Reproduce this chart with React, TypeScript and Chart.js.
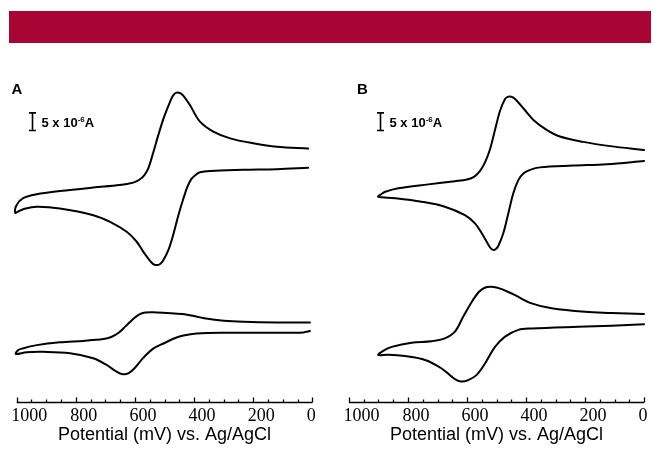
import React, { useEffect, useRef } from "react";
import { Chart, registerables } from "chart.js";

Chart.register(...registerables);

// ---------- data ----------
const potentialTicks = [1000, 800, 600, 400, 200, 0];
const axisTitle = "Potential (mV) vs. Ag/AgCl";
const panelLabels = ["A", "B"];
const scaleBarText = "5 x 10";
const scaleBarExp = "-6";
const scaleBarUnit = "A";
const scaleBarValue = 5; // µA (5 x 10^-6 A)

// Panel A, upper voltammogram (potential in mV, current in µA, stacked offset)
const aTopPotential = [14, 120, 233, 346, 380, 396, 410, 423, 436, 453, 470, 487, 504, 515, 526, 538, 549, 572, 594, 628, 684, 741, 854, 932, 978, 993, 1005, 1000, 978, 932, 854, 741, 651, 606, 585, 568, 555, 538, 521, 502, 481, 470, 459, 448, 436, 414, 380, 335, 278, 200, 120, 14];
const aTopCurrent = [66.1, 65.7, 65.5, 65.2, 64.8, 64.0, 62.8, 60.6, 57.4, 52.7, 47.3, 42.8, 40.0, 38.9, 38.6, 38.9, 39.8, 42.4, 45.2, 48.0, 50.8, 52.7, 54.6, 55.1, 54.4, 53.8, 53.4, 55.6, 57.5, 58.6, 59.5, 60.5, 61.2, 61.9, 62.7, 64.0, 65.9, 70.4, 75.3, 80.3, 84.8, 86.6, 87.3, 87.2, 86.4, 83.8, 79.1, 76.3, 74.4, 73.0, 72.0, 71.5];

// Panel A, lower voltammogram
const aBottomPotential = [8, 30, 120, 290, 391, 436, 470, 500, 538, 572, 600, 621, 642, 662, 696, 741, 820, 910, 966, 1003, 995, 978, 932, 854, 775, 707, 680, 655, 632, 606, 585, 565, 540, 493, 440, 400, 360, 300, 233, 120, 8];
const aBottomCurrent = [20.0, 19.6, 19.5, 19.5, 19.3, 18.7, 17.8, 16.6, 15.0, 12.4, 9.6, 8.1, 7.8, 8.5, 10.4, 12.3, 13.7, 14.1, 14.0, 13.5, 14.6, 15.1, 16.0, 16.8, 17.2, 17.7, 18.3, 19.5, 21.3, 23.4, 24.7, 25.2, 25.3, 25.1, 24.8, 24.2, 23.5, 22.9, 22.6, 22.4, 22.4];

// Panel B, upper voltammogram
const bTopPotential = [0, 126, 240, 353, 386, 409, 426, 443, 460, 477, 494, 503, 511, 520, 528, 550, 573, 607, 675, 754, 844, 901, 891, 877, 833, 731, 641, 600, 575, 555, 539, 522, 505, 488, 471, 462, 454, 443, 432, 409, 375, 330, 285, 206, 115, 0];
const bTopCurrent = [68.0, 67.1, 66.7, 66.2, 65.5, 64.5, 62.6, 58.9, 53.2, 47.6, 44.0, 43.1, 42.9, 43.4, 44.4, 47.6, 50.4, 52.7, 55.1, 56.5, 57.5, 57.9, 58.6, 59.3, 60.3, 61.4, 62.3, 62.8, 63.6, 65.3, 67.6, 71.3, 76.8, 82.2, 85.5, 86.1, 86.2, 85.9, 85.1, 82.9, 79.6, 76.8, 74.9, 73.4, 72.2, 71.1];

// Panel B, lower voltammogram
const bBottomPotential = [0, 110, 223, 381, 426, 471, 505, 539, 567, 596, 618, 635, 652, 686, 742, 810, 867, 901, 884, 855, 788, 720, 675, 641, 613, 584, 560, 540, 520, 500, 482, 460, 437, 381, 313, 200, 110, 0];
const bBottomCurrent = [21.9, 21.5, 21.2, 20.7, 20.3, 18.4, 15.5, 10.8, 7.6, 6.1, 5.7, 6.1, 7.1, 9.4, 11.8, 12.9, 13.3, 13.2, 14.4, 15.5, 16.7, 17.1, 17.9, 19.8, 24.0, 28.2, 31.0, 32.2, 32.5, 32.3, 31.8, 31.0, 30.1, 27.8, 26.4, 25.4, 25.1, 24.8];

// scale bar anchor (potential mV, current µA of bar bottom)
const aScaleBarAt = [948, 76.6];
const bScaleBarAt = [895, 76.6];

// ---------- styling / layout ----------
const SERIF = "'Liberation Serif', 'Times New Roman', Times, serif";
const SANS = "'Liberation Sans', Arial, Helvetica, sans-serif";
const W = 653;
const H = 451;
const Y_MAX = 99.35;

type Curve = { potential: number[]; current: number[] };
type Panel = {
  label: string;
  curves: Curve[];
  bar: number[];
  canvasLeft: number;
  canvasWidth: number;
  padLeft: number;
  padRight: number;
  labelX: number;
  labelY: number;
};

const panels: Panel[] = [
  {
    label: panelLabels[0],
    curves: [
      { potential: aTopPotential, current: aTopCurrent },
      { potential: aBottomPotential, current: aBottomCurrent },
    ],
    bar: aScaleBarAt,
    canvasLeft: -12,
    canvasWidth: 347,
    padLeft: 28.7,
    padRight: 22.7,
    labelX: 23.5,
    labelY: 94,
  },
  {
    label: panelLabels[1],
    curves: [
      { potential: bTopPotential, current: bTopCurrent },
      { potential: bBottomPotential, current: bBottomCurrent },
    ],
    bar: bScaleBarAt,
    canvasLeft: 320,
    canvasWidth: 345,
    padLeft: 29,
    padRight: 21,
    labelX: 37,
    labelY: 93.5,
  },
];

const decorPlugin = {
  id: "cvDecor",
  afterDraw(chart: any, _args: any, opts: any) {
    const { ctx, chartArea, scales } = chart;
    const xs = scales.x;
    const ys = scales.y;
    ctx.save();
    ctx.strokeStyle = "#000";
    ctx.fillStyle = "#000";
    // axis line with inward ticks
    const yb = Math.round(chartArea.bottom) + 0.5;
    ctx.lineWidth = 1.3;
    ctx.beginPath();
    ctx.moveTo(xs.getPixelForValue(potentialTicks[0]), yb);
    ctx.lineTo(xs.getPixelForValue(potentialTicks[potentialTicks.length - 1]), yb);
    for (let v = 0; v <= 1000; v += 50) {
      const px = Math.round(xs.getPixelForValue(v)) + 0.5;
      const len = v % 200 === 0 ? 5 : 3;
      ctx.moveTo(px, yb);
      ctx.lineTo(px, yb - len);
    }
    ctx.stroke();

    // scale bar
    const bx = Math.round(xs.getPixelForValue(opts.bar[0])) + 0.5;
    const y1 = ys.getPixelForValue(opts.bar[1]);
    const y2 = ys.getPixelForValue(opts.bar[1] + scaleBarValue);
    ctx.lineWidth = 1.6;
    ctx.beginPath();
    ctx.moveTo(bx, y1);
    ctx.lineTo(bx, y2);
    ctx.moveTo(bx - 3.5, y1);
    ctx.lineTo(bx + 3.5, y1);
    ctx.moveTo(bx - 3.5, y2);
    ctx.lineTo(bx + 3.5, y2);
    ctx.stroke();

    const ty = (y1 + y2) / 2 + 5;
    ctx.textBaseline = "alphabetic";
    ctx.textAlign = "left";
    let tx = bx + 9;
    ctx.font = `bold 13px ${SANS}`;
    ctx.fillText(scaleBarText, tx, ty);
    tx += ctx.measureText(scaleBarText).width;
    ctx.font = `bold 8px ${SANS}`;
    ctx.fillText(scaleBarExp, tx, ty - 5);
    tx += ctx.measureText(scaleBarExp).width;
    ctx.font = `bold 13px ${SANS}`;
    ctx.fillText(scaleBarUnit, tx, ty);

    // panel letter
    ctx.font = `bold 15px ${SANS}`;
    ctx.fillText(opts.label, opts.labelX, opts.labelY);
    ctx.restore();
  },
};

function CVPanel({ panel }: { panel: Panel }) {
  const ref = useRef<HTMLCanvasElement>(null);
  useEffect(() => {
    const canvas = ref.current;
    if (!canvas) return;
    const chart = new Chart(canvas, {
      type: "scatter",
      data: {
        datasets: panel.curves.map((c) => ({
          data: c.potential.map((x, i) => ({ x, y: c.current[i] })),
          showLine: true,
          borderColor: "#000",
          borderWidth: 2,
          borderJoinStyle: "round",
          borderCapStyle: "round",
          pointRadius: 0,
          pointHoverRadius: 0,
          tension: 0.35,
          fill: false,
          clip: false,
        })),
      },
      options: {
        animation: false,
        responsive: false,
        maintainAspectRatio: false,
        events: [],
        layout: {
          padding: { left: panel.padLeft, right: panel.padRight, top: 50, bottom: 11.8 },
        },
        plugins: {
          legend: { display: false },
          tooltip: { enabled: false },
          cvDecor: { bar: panel.bar, label: panel.label, labelX: panel.labelX, labelY: panel.labelY },
        } as any,
        scales: {
          x: {
            type: "linear",
            min: 0,
            max: 1000,
            reverse: true,
            afterBuildTicks: (scale: any) => {
              scale.ticks = potentialTicks.map((v) => ({ value: v }));
            },
            grid: { display: false, drawTicks: false },
            border: { display: false },
            ticks: {
              color: "#000",
              padding: 3.5,
              align: "start",
              labelOffset: -5.5,
              maxRotation: 0,
              autoSkip: false,
              font: { family: SERIF, size: 18, lineHeight: 1.2 },
              callback: (v: any) => String(v),
            },
            title: {
              display: true,
              text: axisTitle,
              color: "#000",
              font: { family: SANS, size: 18, lineHeight: 0.49 },
              padding: { top: 0, bottom: 0 },
            },
          },
          y: { display: false, min: 0, max: Y_MAX },
        },
      },
      plugins: [decorPlugin],
    } as any);
    return () => chart.destroy();
  }, [panel]);
  return (
    <canvas
      ref={ref}
      width={panel.canvasWidth}
      height={H}
      style={{ position: "absolute", left: panel.canvasLeft, top: 0, width: panel.canvasWidth, height: H }}
    />
  );
}

export default function App() {
  return (
    <div
      style={{
        position: "absolute",
        left: 0,
        top: 0,
        width: W,
        height: H,
        background: "#fff",
        overflow: "hidden",
      }}
    >
      <div
        style={{
          position: "absolute",
          left: 9,
          top: 11,
          width: 642,
          height: 32,
          background: "#A80434",
        }}
      />
      {panels.map((p) => (
        <CVPanel key={p.label} panel={p} />
      ))}
    </div>
  );
}
